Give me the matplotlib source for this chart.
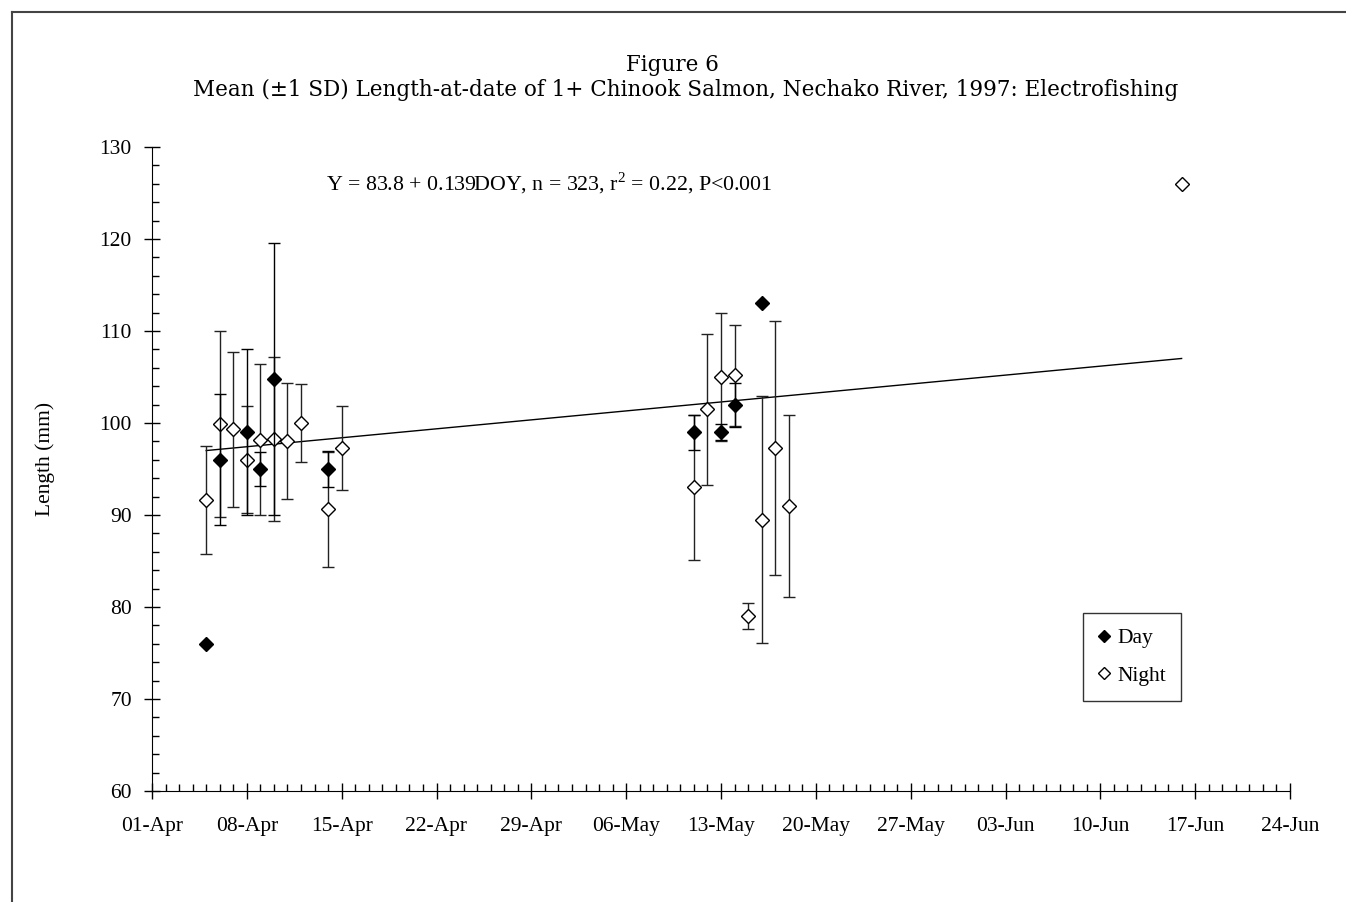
import datetime as dt
import matplotlib
matplotlib.use("Agg")
import matplotlib.pyplot as plt
import matplotlib.dates as mdates
from matplotlib.lines import Line2D

plt.rcParams['font.family'] = ['Liberation Serif', 'DejaVu Serif']
plt.rcParams['mathtext.fontset'] = 'custom'
plt.rcParams['mathtext.rm'] = 'Liberation Serif'

# day catches: date, mean length, sd
day_dates = ['1997-04-05', '1997-04-06', '1997-04-08', '1997-04-09', '1997-04-10',
             '1997-04-14', '1997-05-11', '1997-05-13', '1997-05-14', '1997-05-16']
day_mean = [76.0, 96.0, 99.0, 95.0, 104.8, 95.0, 99.0, 99.0, 102.0, 113.0]
day_sd = [0.0, 7.1, 9.0, 1.8, 14.8, 2.0, 1.9, 0.9, 2.4, 0.0]

# night catches
night_dates = ['1997-04-05', '1997-04-06', '1997-04-07', '1997-04-08', '1997-04-09',
               '1997-04-10', '1997-04-11', '1997-04-12', '1997-04-14', '1997-04-15',
               '1997-05-11', '1997-05-12', '1997-05-13', '1997-05-14', '1997-05-15',
               '1997-05-16', '1997-05-17', '1997-05-18', '1997-06-16']
night_mean = [91.6, 99.9, 99.3, 96.0, 98.2, 98.3, 98.0, 100.0, 90.6, 97.3,
              93.0, 101.5, 105.0, 105.2, 79.0, 89.5, 97.3, 91.0, 126.0]
night_sd = [5.85, 10.1, 8.4, 5.8, 8.2, 8.9, 6.3, 4.2, 6.3, 4.6,
            7.9, 8.2, 7.0, 5.5, 1.4, 13.4, 13.8, 9.9, 0.0]

# regression Y = a + b*DOY, drawn over the sampled range
intercept = 83.8
slope = 0.139
fit_range = ['1997-04-05', '1997-06-16']

x_start = dt.datetime(1997, 4, 1)
x_end = dt.datetime(1997, 6, 24)

to_date = lambda s: dt.datetime.strptime(s, '%Y-%m-%d')
dd = [to_date(s) for s in day_dates]
nd = [to_date(s) for s in night_dates]
fd = [to_date(s) for s in fit_range]
fit_y = [intercept + slope * d.timetuple().tm_yday for d in fd]

fig = plt.figure(figsize=(13.46, 9.02), dpi=100)
ax = fig.add_axes([152/1346, 111/902, 1138/1346, 644/902])

ax.plot(fd, fit_y, color='black', lw=1)

ax.errorbar(nd, night_mean, yerr=night_sd, fmt='D', ms=7, mfc='white', mec='black',
            mew=1, ecolor='#222222', elinewidth=1, capsize=4.5, capthick=1, zorder=3)
ax.errorbar(dd, day_mean, yerr=day_sd, fmt='D', ms=7, mfc='black', mec='black',
            ecolor='black', elinewidth=1, capsize=4.5, capthick=1, zorder=4)

ax.set_xlim(x_start, x_end)
ax.set_ylim(60, 130)
weeks = [x_start + dt.timedelta(days=7 * i) for i in range(13)]
ax.set_xticks(weeks)
ax.xaxis.set_minor_locator(mdates.DayLocator())
ax.xaxis.set_major_formatter(mdates.DateFormatter('%d-%b'))
ax.set_yticks(range(60, 131, 10))
ax.set_yticks(range(60, 131, 2), minor=True)

for s in ['top', 'right']:
    ax.spines[s].set_visible(False)
ax.tick_params(which='major', direction='inout', length=11, width=1, labelsize=15.5)
ax.tick_params(which='minor', direction='in', length=5, width=1)
ax.tick_params(axis='x', which='major', pad=13)
ax.tick_params(axis='y', which='major', pad=9)

ax.set_ylabel('Length (mm)', fontsize=15.5)
ax.yaxis.set_label_coords((55 - 152) / 1138, (791 - 459) / 644)

ax.text(0.349, 0.944, 'Y = 83.8 + 0.139DOY, n = 323, r$^2$ = 0.22, P<0.001',
        transform=ax.transAxes, ha='center', va='center', fontsize=15.75)

handles = [Line2D([], [], ls='none', marker='D', ms=6, mfc='black', mec='black'),
           Line2D([], [], ls='none', marker='D', ms=6, mfc='white', mec='black')]
leg = ax.legend(handles, ['Day', 'Night'], loc='upper left', bbox_to_anchor=(0.818, 0.276),
                borderaxespad=0, fontsize=15.5, frameon=True, fancybox=False,
                edgecolor='black', handlelength=0.6, handletextpad=0.3,
                labelspacing=0.8, borderpad=0.7)
leg.get_frame().set_linewidth(1)

fig.text(0.4993, 1 - 65/902, 'Figure 6', ha='center', va='center',
         fontsize=15.5, family=['DejaVu Serif'])
fig.text(686/1346, 1 - 90/902,
         'Mean (\u00b11 SD) Length-at-date of 1+ Chinook Salmon, Nechako River, 1997: Electrofishing',
         ha='center', va='center', fontsize=15.5, family=['DejaVu Serif'])

# page frame (top and left edges)
fig.add_artist(Line2D([12/1346, 1], [1 - 12/902, 1 - 12/902], color='#444444', lw=1.5))
fig.add_artist(Line2D([12/1346, 12/1346], [0, 1 - 12/902], color='#444444', lw=1.5))

fig.savefig('out.png', dpi=100)
